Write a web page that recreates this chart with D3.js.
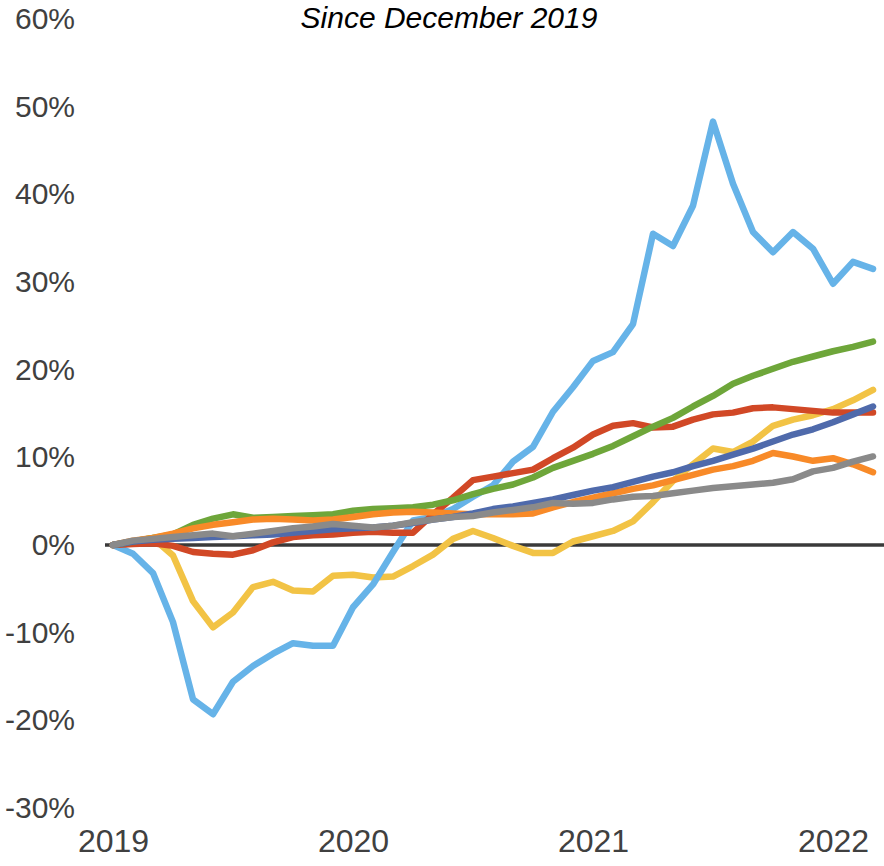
<!DOCTYPE html>
<html>
<head>
<meta charset="utf-8">
<script src="https://cdn.jsdelivr.net/npm/d3@7"></script>
<style>
  body { margin: 0; background: #fff; }
  svg { display: block; font-family: "Liberation Sans", Arial, sans-serif; }
</style>
</head>
<body>
<div id="chart"></div>
<script>
// monthly points, Dec 2019 .. Feb 2023
const months = d3.range(39).map((i) => d3.utcFormat("%Y-%m")(new Date(Date.UTC(2019, 11 + i, 1))));
const yearLabels = ["2019", "2020", "2021", "2022"];
const yTicks = [-30, -20, -10, 0, 10, 20, 30, 40, 50, 60];

const lightBlue = [0, -1.0, -3.2, -8.8, -17.6, -19.3, -15.6, -13.8, -12.4, -11.2, -11.5, -11.5, -7.1, -4.5, -0.8,
  2.8, 3.2, 4.1, 5.5, 6.8, 9.5, 11.2, 15.2, 18.0, 21.0, 22.0, 25.2, 35.5, 34.1, 38.7, 48.3, 41.2, 35.7, 33.4,
  35.7, 33.8, 29.8, 32.3, 31.5];
const yellow = [0, 0.4, 0.8, -1.2, -6.4, -9.4, -7.7, -4.8, -4.2, -5.2, -5.3, -3.5, -3.4, -3.7, -3.6, -2.4, -1.1,
  0.7, 1.6, 0.8, -0.1, -0.9, -0.9, 0.4, 1.0, 1.6, 2.7, 4.9, 7.3, 9.2, 11.0, 10.6, 11.8, 13.6, 14.3, 14.8, 15.5,
  16.5, 17.7];
const red = [0, 0.1, 0.2, -0.1, -0.8, -1.0, -1.1, -0.6, 0.3, 0.9, 1.1, 1.2, 1.4, 1.5, 1.4, 1.4, 3.5, 5.4, 7.4,
  7.8, 8.2, 8.6, 9.9, 11.1, 12.6, 13.6, 13.9, 13.4, 13.5, 14.3, 14.9, 15.1, 15.6, 15.7, 15.5, 15.3, 15.1, 15.1, 15.1];
const green = [0, 0.4, 0.8, 1.2, 2.3, 3.0, 3.5, 3.1, 3.2, 3.3, 3.4, 3.5, 3.9, 4.1, 4.2, 4.3, 4.6, 5.1, 5.8, 6.4,
  6.9, 7.7, 8.8, 9.6, 10.4, 11.3, 12.4, 13.5, 14.5, 15.8, 17.0, 18.4, 19.3, 20.1, 20.9, 21.5, 22.1, 22.6, 23.2];
const orange = [0, 0.5, 0.8, 1.3, 1.9, 2.3, 2.6, 2.9, 3.0, 2.9, 2.8, 2.9, 3.2, 3.5, 3.7, 3.8, 3.7, 3.6, 3.5, 3.5,
  3.5, 3.6, 4.3, 4.9, 5.4, 5.9, 6.4, 6.8, 7.4, 8.0, 8.6, 9.0, 9.6, 10.5, 10.1, 9.6, 9.9, 9.2, 8.3];
const darkBlue = [0, 0.4, 0.6, 0.7, 0.8, 0.9, 1.0, 1.1, 1.2, 1.4, 1.6, 1.8, 1.9, 2.0, 2.2, 2.5, 2.9, 3.2, 3.6, 4.1,
  4.4, 4.8, 5.2, 5.7, 6.2, 6.6, 7.2, 7.8, 8.3, 9.0, 9.6, 10.3, 11.0, 11.8, 12.6, 13.2, 14.0, 14.9, 15.8];
const gray = [0, 0.5, 0.7, 0.9, 1.1, 1.3, 1.0, 1.3, 1.6, 1.9, 2.1, 2.4, 2.2, 2.0, 2.2, 2.6, 2.9, 3.2, 3.3, 3.7,
  4.0, 4.3, 4.8, 4.7, 4.8, 5.2, 5.5, 5.6, 5.9, 6.2, 6.5, 6.7, 6.9, 7.1, 7.5, 8.4, 8.8, 9.5, 10.1];

const series = [
  { name: "yellow", values: yellow, color: "#f2c345" },
  { name: "lightBlue", values: lightBlue, color: "#66b3e8" },
  { name: "red", values: red, color: "#d14826" },
  { name: "green", values: green, color: "#6ea63a" },
  { name: "orange", values: orange, color: "#f88a28" },
  { name: "darkBlue", values: darkBlue, color: "#4f6aab" },
  { name: "gray", values: gray, color: "#8a8a8a" },
];

const width = 884, height = 866;

const x = d3.scalePoint().domain(months).range([113, 873]);
const y = d3.scaleLinear().domain([-30, 60]).range([808, 19]);

const svg = d3.select("#chart").append("svg")
  .attr("width", width)
  .attr("height", height);

// title
svg.append("text")
  .attr("x", 449)
  .attr("y", 28)
  .attr("text-anchor", "middle")
  .attr("font-size", 30)
  .attr("font-style", "italic")
  .attr("fill", "#000")
  .text("Since December 2019");

// y axis labels
const yAxis = d3.axisLeft(y)
  .tickValues(yTicks)
  .tickFormat((d) => d + "%")
  .tickSize(0)
  .tickPadding(0);

svg.append("g")
  .attr("transform", "translate(75,0)")
  .call(yAxis)
  .call((g) => g.select(".domain").remove())
  .call((g) => g.selectAll("text")
    .attr("font-size", 30)
    .attr("font-family", "'Liberation Sans', Arial, sans-serif")
    .attr("fill", "#404040"));

// x axis labels, one per year
const xAxis = d3.axisBottom(x)
  .tickValues(months.filter((d, i) => i % 12 === 0))
  .tickFormat((d, i) => yearLabels[i])
  .tickSize(0)
  .tickPadding(0);

svg.append("g")
  .attr("transform", "translate(0,829)")
  .call(xAxis)
  .call((g) => g.select(".domain").remove())
  .call((g) => g.selectAll("text")
    .attr("font-size", 32)
    .attr("font-family", "'Liberation Sans', Arial, sans-serif")
    .attr("fill", "#404040"));

// zero line
svg.append("line")
  .attr("x1", 105)
  .attr("x2", width)
  .attr("y1", y(0))
  .attr("y2", y(0))
  .attr("stroke", "#3a3a3a")
  .attr("stroke-width", 3.5);

const line = d3.line()
  .x((d, i) => x(months[i]))
  .y((d) => y(d));

svg.append("g")
  .selectAll("path")
  .data(series)
  .join("path")
  .attr("fill", "none")
  .attr("stroke", (d) => d.color)
  .attr("stroke-width", 6.5)
  .attr("stroke-linejoin", "round")
  .attr("stroke-linecap", "round")
  .attr("d", (d) => line(d.values));
</script>
</body>
</html>
